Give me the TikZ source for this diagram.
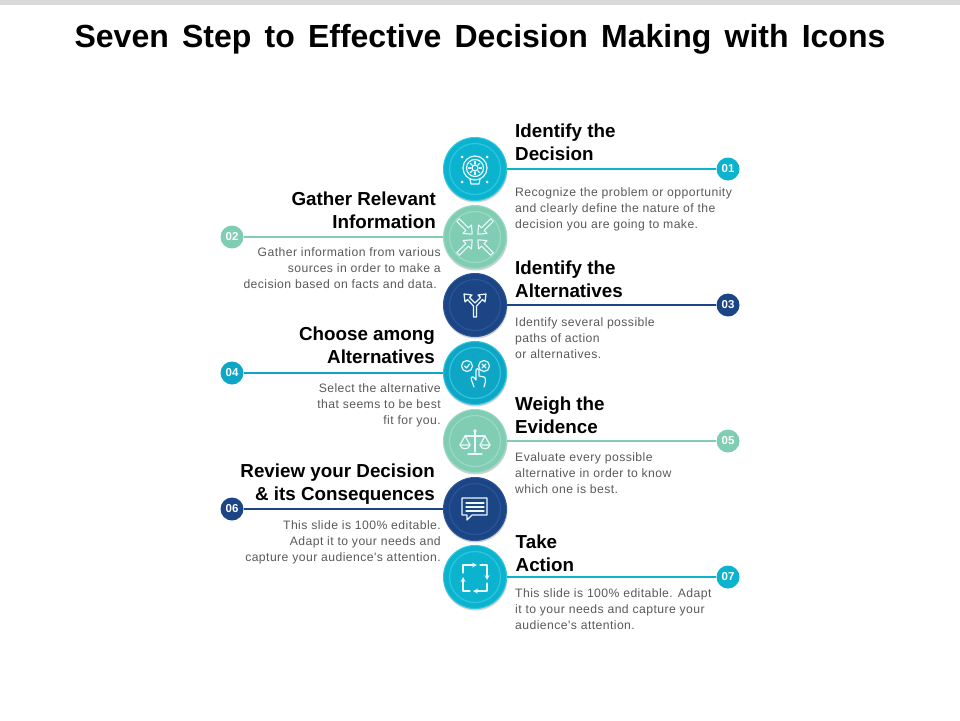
\documentclass[tikz,border=0pt]{standalone}
\usepackage{fontspec}
\setmainfont{Liberation Sans}
\newfontfamily\bodyfont[LetterSpace=3.5]{Liberation Sans}
\definecolor{cyanball}{HTML}{0BB3CE}
\definecolor{cyanrim}{HTML}{2CC7DE}
\definecolor{cyandeep}{HTML}{0FA6C6}
\definecolor{mintball}{HTML}{80CDB3}
\definecolor{mintrim}{HTML}{9BDAC4}
\definecolor{navyball}{HTML}{1C4586}
\definecolor{navyrim}{HTML}{2B5596}
\definecolor{bodygrey}{HTML}{595959}
\newcommand{\widewords}[1]{\spaceskip #1\relax}
\tikzset{
  ball/.style={circle,minimum size=63pt,inner sep=0pt},
  numdot/.style={circle,minimum size=23pt,inner sep=0pt,text=white,font=\fontsize{11.5}{12}\selectfont\bfseries},
  headtext/.style={inner sep=0pt,font=\fontsize{18.8}{23}\selectfont\bfseries},
  bodytext/.style={inner sep=0pt,text=bodygrey,font=\bodyfont\fontsize{12.2}{16}\selectfont},
  icon/.style={draw=white!92!cyan,line width=1.2pt,line cap=round,line join=round},
}
\begin{document}
\begin{tikzpicture}[x=1pt,y=-1pt,>=stealth]
  \useasboundingbox (0,0) rectangle (960,720);
  \fill[black!15] (0,0) rectangle (960,4.5);
  \node[inner sep=0pt,font=\fontsize{32}{32}\selectfont\bfseries\widewords{13.2pt}] (title) at (480,39) {Seven Step to Effective Decision Making with Icons};
  % balls and their numbers
  \foreach \n/\y/\sx/\col/\rim in {1/169/728/cyanball/cyanrim,2/237/232/mintball/mintrim,3/305/728/navyball/navyrim,4/373/232/cyandeep/cyanrim,5/441/728/mintball/mintrim,6/509/232/navyball/navyrim,7/577/728/cyanball/cyanrim} {
    \fill[black!18] (475.5,\y+1.5) circle (32);
    \node[ball,fill=\col,draw=\rim,line width=1pt] (ball\n) at (475,\y) {};
    \draw[draw=\rim,line width=1.2pt] (475,\y) circle (25.5);
    \node[numdot,fill=\col] (num\n) at (\sx,\y) {0\n};
    \draw[draw=\col,line width=1.2pt] (ball\n) -- (num\n);
  }
  % right side texts
  \node[headtext,anchor=north west,align=left] (head1) at (515,124) {Identify the\\Decision};
  \node[bodytext,anchor=north west,align=left] (body1) at (515,187) {Recognize the problem or opportunity\\and clearly define the nature of the\\decision you are going to make.};
  \node[headtext,anchor=north west,align=left] (head3) at (515,261) {Identify the\\Alternatives};
  \node[bodytext,anchor=north west,align=left] (body3) at (515,317) {Identify several possible\\paths of action\\or alternatives.};
  \node[headtext,anchor=north west,align=left] (head5) at (515,397) {Weigh the\\Evidence};
  \node[bodytext,anchor=north west,align=left] (body5) at (515,452.5) {Evaluate every possible\\alternative in order to know\\which one is best.};
  \node[headtext,anchor=north west,align=left] (head7) at (515.5,535) {Take\\Action};
  \node[bodytext,anchor=north west,align=left] (body7) at (515,588) {This slide is 100\% editable. Adapt\\it to your needs and capture your\\audience's attention.};
  % left side texts
  \node[headtext,anchor=north east,align=right] (head2) at (436,192) {Gather Relevant\\Information};
  \node[bodytext,anchor=north east,align=right] (body2) at (441,247) {Gather information from various\\sources in order to make a\\decision based on facts and data.\hspace*{4pt}};
  \node[headtext,anchor=north east,align=right] (head4) at (435,327) {Choose among\\Alternatives};
  \node[bodytext,anchor=north east,align=right] (body4) at (441,383) {Select the alternative\\that seems to be best\\fit for you.};
  \node[headtext,anchor=north east,align=right] (head6) at (435,464) {Review your Decision\\\& its Consequences};
  \node[bodytext,anchor=north east,align=right] (body6) at (441,520) {This slide is 100\% editable.\\Adapt it to your needs and\\capture your audience's attention.};
  % bulb with gear
  \draw[icon] (475,168) circle (12) (475,168) circle (8.5) (475,168) circle (3);
  \foreach \a in {0,45,...,315} {
    \draw[icon] (475,168) ++(\a:4) -- ++(\a:2.5);
  }
  \draw[icon] (470,179) -- (471,184) -- (479,184) -- (480,179);
  \foreach \dx/\dy in {462/157,487/157,462/182,487/182} {
    \fill[white] (\dx,\dy) circle (1.5);
  }
  % arrows pointing inward
  \foreach \a in {45,135,225,315} {
    \begin{scope}[shift={(475,237)},rotate=\a]
      \draw[icon,line width=1.1pt] (24,1.8) -- (11,1.8) -- (11,6) -- (4,0) -- (11,-6) -- (11,-1.8) -- (24,-1.8) -- cycle;
    \end{scope}
  }
  % fork
  \draw[icon] (473.5,317) -- (473.5,306) -- (467.5,299.5) -- (465,302) -- (464,294) -- (472,295) -- (469.5,297.5) -- (475,303) -- (480.5,297.5) -- (478,295) -- (486,294) -- (485,302) -- (482.5,299.5) -- (476.5,306) -- (476.5,317) -- cycle;
  % choice with hand
  \draw[icon] (467,366) circle (5.5) (484,366) circle (5.5);
  \draw[icon] (464.5,366) -- (466.5,368) -- (469.5,364);
  \draw[icon] (482,364) -- (486,368) (486,364) -- (482,368);
  \draw[icon] (474,387) .. controls (472,381) and (470,378) .. (472,377) .. controls (473,376) and (475,379) .. (476,380) -- (476,370) .. controls (476,368) and (479,368) .. (479,370) -- (479,376) -- (484,377) .. controls (486,378) and (486,381) .. (484,387);
  % scales
  \draw[icon] (475,431) -- (475,452) (468,454) -- (482,454) (465,436) -- (485,436);
  \fill[white] (475,431) circle (1.8);
  \draw[icon] (460,445) -- (465,436) -- (470,445) (480,445) -- (485,436) -- (490,445);
  \draw[icon] (460,445) .. controls (461,450) and (469,450) .. (470,445) -- cycle;
  \draw[icon] (480,445) .. controls (481,450) and (489,450) .. (490,445) -- cycle;
  % speech bubble
  \draw[icon] (472,515) -- (487,515) -- (487,498) -- (462,498) -- (462,515) -- (467,515) -- (467,520) -- cycle;
  \foreach \ly in {503,507,511} {
    \draw[icon] (466,\ly) -- (484,\ly);
  }
  % cycle of arrows
  \draw[icon,->] (463,573) -- (463,565) -- (477,565);
  \draw[icon,->] (480,565) -- (487,565) -- (487,580);
  \draw[icon,->] (487,583) -- (487,591) -- (473,591);
  \draw[icon,->] (470,591) -- (463,591) -- (463,577);
\end{tikzpicture}
\end{document}
